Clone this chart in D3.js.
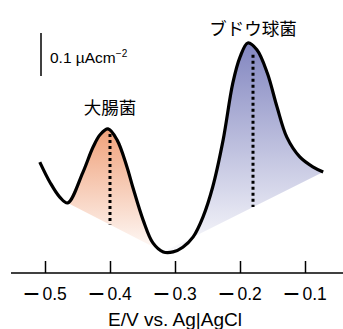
<!DOCTYPE html>
<html>
<head>
<meta charset="utf-8">
<script src="https://cdn.jsdelivr.net/npm/d3@7"></script>
<style>
  body { margin: 0; background: #fff; }
  text { font-family: "Liberation Sans", Arial, sans-serif; }
  .jp { font-family: "Noto Sans CJK JP", sans-serif; }
</style>
</head>
<body>
<div id="chart"></div>
<script>
// potential (V vs Ag|AgCl) and current (µA cm^-2, arbitrary offset)
const potential = [-0.508, -0.492, -0.477, -0.465, -0.442, -0.426, -0.415, -0.403, -0.389, -0.374, -0.365, -0.349, -0.334, -0.318, -0.303, -0.288, -0.272, -0.257, -0.242, -0.226, -0.211, -0.200, -0.188, -0.174, -0.158, -0.143, -0.128, -0.108, -0.088, -0.072];
const current   = [0.258, 0.210, 0.176, 0.163, 0.233, 0.293, 0.322, 0.335, 0.309, 0.247, 0.200, 0.123, 0.070, 0.049, 0.049, 0.060, 0.084, 0.130, 0.200, 0.309, 0.442, 0.502, 0.535, 0.519, 0.465, 0.386, 0.316, 0.270, 0.247, 0.235];

const xTicks = [-0.5, -0.4, -0.3, -0.2, -0.1];
const peakNames = ["大腸菌", "ブドウ球菌"];
const peakPotential = [-0.40, -0.18];
const peakRanges = [[3, 13], [13, 29]]; // index ranges of shaded peaks
const peakColors = ["#f0a17a", "#8286c0"];
const scaleBarValue = 0.1;

const width = 343, height = 329;
const svg = d3.select("#chart").append("svg").attr("width", width).attr("height", height);

const x = d3.scaleLinear().domain([-0.5, -0.1]).range([45, 305]);
const y = d3.scaleLinear().domain([0, 0.6]).range([273, 15]);

const pts = potential.map((v, i) => [v, current[i]]);
const line = d3.line().x(d => x(d[0])).y(d => y(d[1])).curve(d3.curveCatmullRom.alpha(0.5));

// gradients
const defs = svg.append("defs");
peakRanges.forEach((r, k) => {
  const seg = pts.slice(r[0], r[1] + 1);
  const top = d3.max(seg, d => d[1]), bot = d3.min(seg, d => d[1]);
  const g = defs.append("linearGradient").attr("id", "g" + k)
    .attr("gradientUnits", "userSpaceOnUse")
    .attr("x1", 0).attr("x2", 0).attr("y1", y(top)).attr("y2", y(bot));
  g.append("stop").attr("offset", 0).attr("stop-color", peakColors[k]);
  g.append("stop").attr("offset", 1).attr("stop-color", peakColors[k]).attr("stop-opacity", 0.04);
});

// shaded peak areas closed by straight baseline chord
peakRanges.forEach((r, k) => {
  const seg = pts.slice(r[0], r[1] + 1);
  svg.append("path").attr("d", line(seg) + "Z").attr("fill", `url(#g${k})`);
});

// dotted peak lines down to the chord
peakRanges.forEach((r, k) => {
  const a = pts[r[0]], b = pts[r[1]];
  const v = peakPotential[k];
  const base = a[1] + (b[1] - a[1]) * (v - a[0]) / (b[0] - a[0]);
  const i = d3.minIndex(pts, d => Math.abs(d[0] - v));
  svg.append("line")
    .attr("x1", x(v)).attr("x2", x(v))
    .attr("y1", y(pts[i][1]) + 5).attr("y2", y(base))
    .attr("stroke", "#000").attr("stroke-width", 3).attr("stroke-dasharray", "3,3");
});

// main curve
svg.append("path").attr("d", line(pts)).attr("fill", "none")
  .attr("stroke", "#000").attr("stroke-width", 3.2).attr("stroke-linejoin", "round");

// x axis
const ax = svg.append("g").attr("transform", `translate(0,${y(0)})`);
ax.append("line").attr("x1", 11).attr("x2", width).attr("stroke", "#000").attr("stroke-width", 1.5);
ax.call(g => g.append("g").call(d3.axisTop(x).tickValues(xTicks).tickSize(12).tickFormat(""))
  .call(a => a.select(".domain").remove())
  .call(a => a.selectAll(".tick line").attr("stroke-width", 1.5)));
const lbl = ax.selectAll(".lbl").data(xTicks).enter().append("text")
  .attr("x", d => x(d)).attr("y", 27).attr("text-anchor", "middle").attr("font-size", 17.5);
lbl.append("tspan").attr("font-size", 28).attr("dy", 2.5).text("\u2212");
lbl.append("tspan").attr("dx", 3).attr("dy", -2.5).text(d => Math.abs(d).toFixed(1));
svg.append("text").attr("x", 175).attr("y", 326).attr("text-anchor", "middle")
  .attr("font-size", 18).attr("textLength", 134).attr("lengthAdjust", "spacingAndGlyphs")
  .text("E/V vs. Ag|AgCl");

// scale bar
const sbBase = 0.458;
svg.append("line").attr("x1", 41).attr("x2", 41)
  .attr("y1", y(sbBase)).attr("y2", y(sbBase + scaleBarValue))
  .attr("stroke", "#000").attr("stroke-width", 1.5);
const sb = svg.append("text").attr("x", 50).attr("y", 63).attr("font-size", 15.5);
sb.append("tspan").text("0.1 µAcm");
sb.append("tspan").attr("dy", -6).attr("font-size", 10).text("\u22122");

// peak labels
peakNames.forEach((n, k) => {
  const i = d3.minIndex(pts, d => Math.abs(d[0] - peakPotential[k]));
  svg.append("text").attr("class", "jp")
    .attr("x", x(peakPotential[k])).attr("y", y(pts[i][1]) - 15)
    .attr("text-anchor", "middle").attr("font-size", 17.5).text(n);
});
</script>
</body>
</html>
